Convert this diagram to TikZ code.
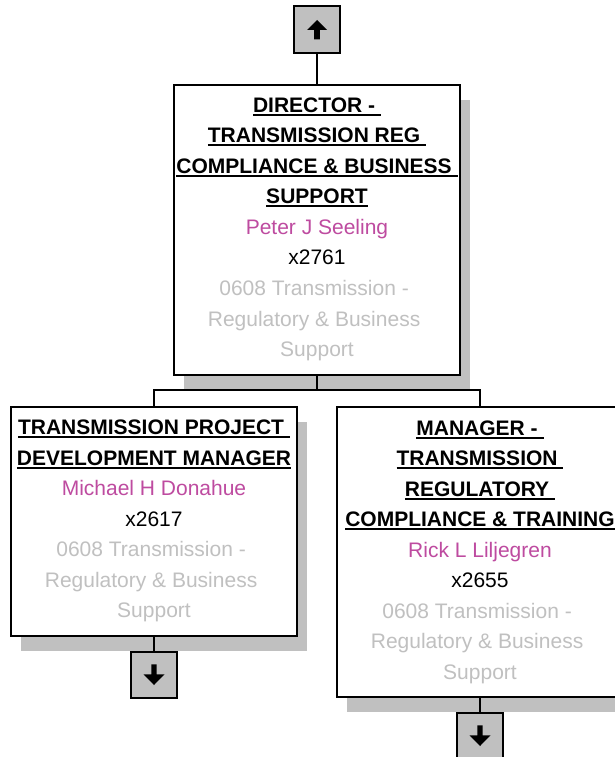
\documentclass[tikz,border=0pt]{standalone}
\usepackage{fontspec}
\setmainfont{Liberation Sans}
\usetikzlibrary{shadows}
\definecolor{shadowgray}{RGB}{192,192,192}
\definecolor{boxgray}{RGB}{192,192,192}
\definecolor{namecol}{RGB}{190,75,160}
\definecolor{deptcol}{RGB}{192,192,192}
\newcommand\ulin[1]{\setbox0\hbox{\bfseries #1}\rlap{\rule[-3.6pt]{\wd0}{2pt}}\box0}
\newcommand\firststrut{\rule{0pt}{22pt}}
\newcommand\dept[1]{\textcolor{deptcol}{\mbox{#1}}}
\tikzset{
  orgbox/.style={draw, line width=1.8pt, fill=white, inner sep=0pt, minimum width=286pt,
    drop shadow={opacity=1, fill=shadowgray, shadow xshift=10pt, shadow yshift=-15pt}},
  txt/.style={inner sep=0pt, align=center, anchor=north, font=\fontsize{21}{30.55}\selectfont},
  navbox/.style={draw, line width=1.8pt, fill=boxgray, inner sep=0pt, minimum size=46.6pt},
  conn/.style={draw, line width=1.8pt},
  uparr/.pic={\fill (0,-9.5) -- (10,0.5) -- (2.8,0.5) -- (2.8,10) -- (-2.8,10) -- (-2.8,0.5) -- (-10,0.5) -- cycle;},
  downarr/.pic={\fill (0,10) -- (10.5,-0.7) -- (2.6,-0.7) -- (2.6,-10.7) -- (-2.6,-10.7) -- (-2.6,-0.7) -- (-10.5,-0.7) -- cycle;}
}
\begin{document}
\begin{tikzpicture}[x=1pt, y=-1pt]
\clip (0,0) rectangle (615,757);
% boxes
\node[orgbox, minimum height=289.7pt] (dir) at (317,229.9) {};
\node[orgbox, minimum height=229.3pt] (pm) at (154,521.35) {};
\node[orgbox, minimum height=290pt] (rm) at (480,551.7) {};
% texts
\node[txt] (dirtext) at (317,90) {\firststrut\ulin{DIRECTOR - }\\\ulin{TRANSMISSION REG }\\\ulin{COMPLIANCE \& BUSINESS }\\\ulin{SUPPORT}\\\textcolor{namecol}{Peter J Seeling}\\x2761\\\dept{0608 Transmission - }\\\dept{Regulatory \& Business }\\\dept{Support}};
\node[txt] (pmtext) at (154,412.3) {\firststrut\ulin{TRANSMISSION PROJECT }\\\ulin{DEVELOPMENT MANAGER}\\\textcolor{namecol}{Michael H Donahue}\\x2617\\\dept{0608 Transmission - }\\\dept{Regulatory \& Business }\\\dept{Support}};
\node[txt] (rmtext) at (480,412.8) {\firststrut\ulin{MANAGER - }\\\ulin{TRANSMISSION }\\\ulin{REGULATORY }\\\ulin{COMPLIANCE \& TRAINING}\\\textcolor{namecol}{Rick L Liljegren}\\x2655\\\dept{0608 Transmission - }\\\dept{Regulatory \& Business }\\\dept{Support}};
% navigation boxes
\node[navbox] (up) at (317,29.5) {};
\node[navbox] (pmdown) at (154,675) {};
\node[navbox] (rmdown) at (480,736) {};
\pic at (up.center) {uparr};
\pic at (pmdown.center) {downarr};
\pic at (rmdown.center) {downarr};
% connectors
\coordinate (bus) at (317,390);
\draw[conn] (up) -- (dir);
\draw[conn] (dir.south) -- (bus);
\draw[conn] (bus) -| (pm.north);
\draw[conn] (bus) -| (rm.north);
\draw[conn] (pm) -- (pmdown);
\draw[conn] (rm) -- (rmdown);
\end{tikzpicture}
\end{document}
